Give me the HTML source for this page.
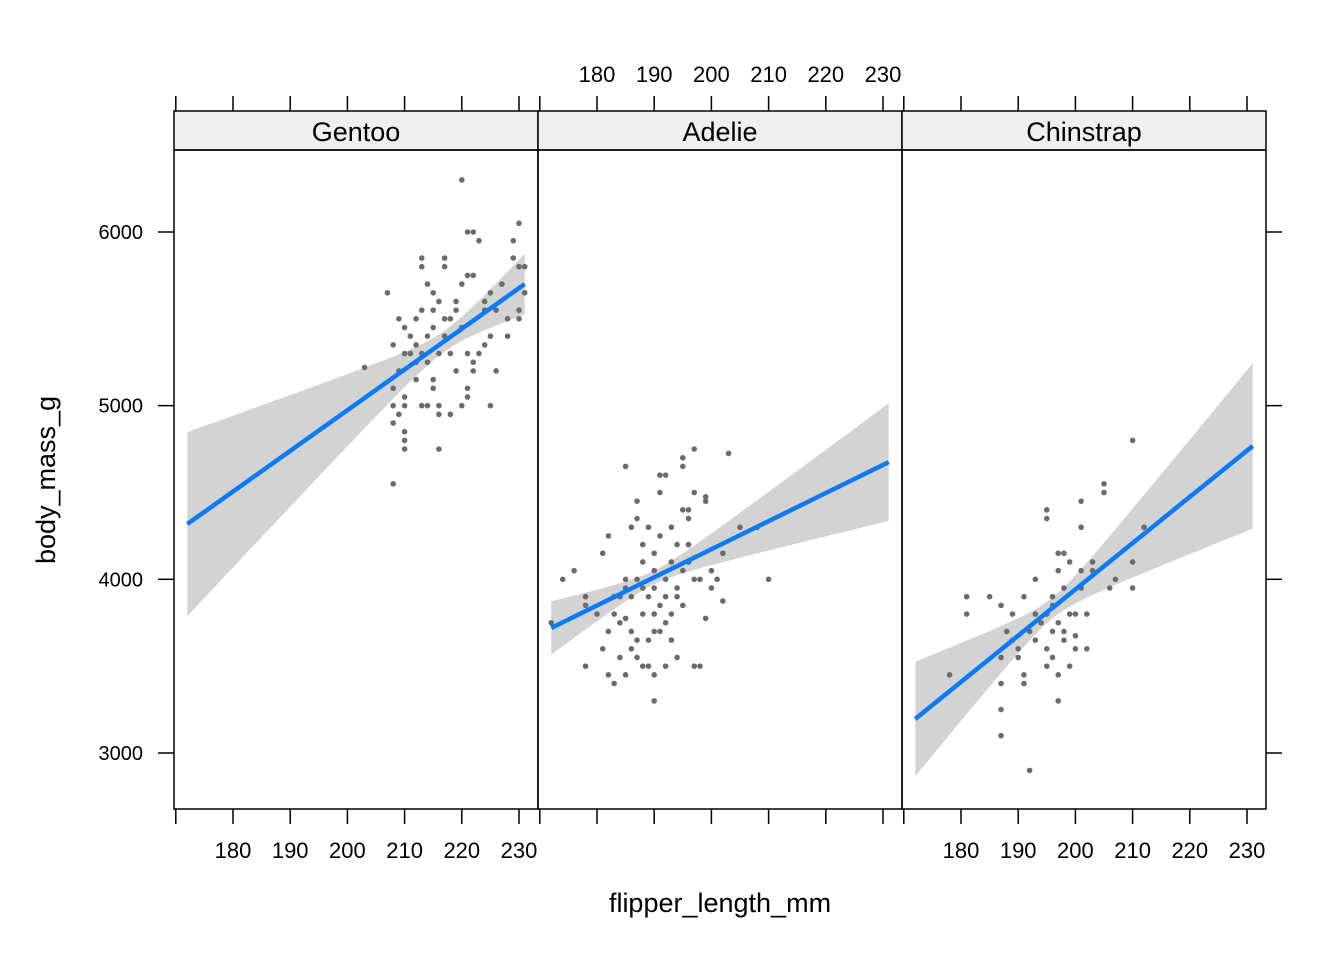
<!DOCTYPE html>
<html><head><meta charset="utf-8"><style>
body{margin:0;background:#fff}
svg text{font-family:"Liberation Sans",Arial,sans-serif;fill:#000}
</style></head><body>
<svg id="c" width="1344" height="960" xmlns="http://www.w3.org/2000/svg"></svg>
<script>
const panels=["Gentoo","Adelie","Chinstrap"];
const xTicks=[170,180,190,200,210,220,230];
const xTickLabels=["","180","190","200","210","220","230"];
const yTicks=[3000,4000,5000,6000];
const gentooPts=[[220,6300],[207,5650],[203,5220],[208,4550],[216,4750],[210,4750],[230,6050],[221,6000],[222,6000],[223,5950],[229,5950],[213,5800],[217,5800],[221,5750],[222,5750],[230,5800],[231,5800],[229,5850],[213,5850],[217,5850],[214,5700],[215,5650],[216,5600],[215,5550],[213,5550],[212,5500],[209,5500],[210,5450],[211,5400],[212,5350],[210,5300],[208,5350],[209,5200],[208,5100],[210,5050],[208,5000],[210,5000],[209,4950],[208,4900],[210,4850],[210,4800],[212,5150],[213,5000],[214,5000],[215,5100],[215,5150],[216,5300],[217,5400],[218,5500],[219,5550],[220,5450],[221,5300],[222,5250],[223,5300],[224,5350],[225,5400],[226,5550],[224,5600],[225,5650],[228,5500],[228,5400],[230,5500],[230,5550],[231,5650],[220,5000],[221,5050],[221,5100],[222,5200],[225,5000],[219,5200],[218,5300],[217,5500],[216,4950],[216,5000],[214,5250],[213,5300],[212,5250],[211,5300],[214,5400],[215,5450],[219,5600],[220,5700],[226,5200],[227,5700],[224,5550],[218,4950]];
const adeliePts=[[172,3750],[174,4000],[176,4050],[178,3500],[178,3900],[178,3850],[180,3800],[181,3600],[181,4150],[182,4250],[182,3700],[182,3450],[183,3400],[183,3800],[184,3750],[184,3900],[185,3450],[185,4650],[185,3950],[185,4000],[186,3600],[186,4300],[186,3700],[187,3650],[187,4450],[187,4350],[187,4000],[187,3550],[188,3800],[188,4200],[188,3500],[188,4100],[189,3500],[189,3900],[189,3650],[189,4300],[190,3300],[190,3800],[190,3950],[190,4050],[190,3700],[190,4150],[191,4600],[191,4500],[191,3850],[191,3700],[191,4250],[192,4600],[192,3900],[192,3750],[192,3500],[192,4000],[193,4300],[193,3800],[193,4100],[193,3650],[194,3550],[194,4200],[194,3950],[195,4650],[195,4700],[195,3850],[195,4400],[195,4050],[196,4200],[196,4400],[196,4350],[197,4500],[197,4750],[197,3500],[198,3500],[198,4000],[199,4450],[199,3775],[199,4475],[200,3950],[200,4050],[201,4000],[202,3875],[202,4150],[203,4725],[205,4300],[208,4300],[210,4000],[186,3900],[184,3550],[188,3950],[190,3450],[194,3900],[196,4100],[183,3900],[185,3775],[197,4000]];
const chinstrapPts=[[178,3450],[181,3900],[181,3800],[185,3900],[187,3850],[187,3550],[187,3400],[187,3250],[187,3100],[188,3700],[189,3800],[189,3650],[190,3600],[190,3550],[191,3900],[191,3450],[191,3400],[192,2900],[192,3700],[193,3650],[193,3800],[193,4000],[194,3750],[195,4400],[195,4350],[195,3800],[195,3500],[195,3600],[196,3850],[196,3900],[196,3700],[196,3550],[197,4050],[197,4150],[197,3300],[197,3450],[197,3750],[198,3700],[198,4150],[198,3950],[199,4100],[199,3800],[199,3500],[200,3600],[200,3800],[201,4300],[201,4450],[201,4050],[201,3950],[202,3600],[202,3800],[203,4100],[203,4050],[205,4500],[205,4550],[206,3950],[207,4000],[210,4800],[210,3950],[210,4100],[212,4300],[200,3675],[198,3650]];
const points=[gentooPts,adeliePts,chinstrapPts];
// fit: [x0, y0, x1, y1]
const fitLines=[[172,4318,231,5700],[172,3720,231,4675],[172,3196,231,4768]];
// band: [xbar, h0, k] halfwidth = sqrt(h0^2 + k^2 (x-xbar)^2)
const bands=[[217,60,11.7],[190,40,8.2],[196,60,13.5]];

const svg=document.getElementById('c');const NS="http://www.w3.org/2000/svg";
function mk(t,a,p){const e=document.createElementNS(NS,t);for(const k in a)e.setAttribute(k,a[k]);(p||svg).appendChild(e);return e;}
const PW=364,L0=174,TOP=150,BOT=809,STRIP=111;
function xs(i,v){return L0+i*PW+59+(v-180)*5.72;}
function ys(v){return 753-(v-3000)*0.17367;}
panels.forEach((name,i)=>{
  const g=mk('g',{});
  
  
  const x0=L0+i*PW;
  const cp=mk('clipPath',{id:'cp'+i},g);mk('rect',{x:x0,y:TOP,width:PW,height:BOT-TOP},cp);
  const inner=mk('g',{'clip-path':'url(#cp'+i+')'},g);
  const f=fitLines[i],b=bands[i];
  const fy=v=>f[1]+(f[3]-f[1])*(v-f[0])/(f[2]-f[0]);
  const hw=v=>Math.sqrt(b[1]*b[1]+b[2]*b[2]*(v-b[0])*(v-b[0]));
  let up=[],lo=[];
  for(let s=0;s<=40;s++){const v=f[0]+(f[2]-f[0])*s/40;up.push(xs(i,v)+','+ys(fy(v)+hw(v)));lo.unshift(xs(i,v)+','+ys(fy(v)-hw(v)));}
  const band=mk('polygon',{points:up.concat(lo).join(' '),fill:'#d3d3d3'},inner);
  
  
  points[i].forEach(p=>{const c=mk('circle',{cx:xs(i,p[0]),cy:ys(p[1]),r:2.8,fill:'#6b6b6b'},inner);
    
    });
  const ln=mk('line',{x1:xs(i,f[0]),y1:ys(f[1]),x2:xs(i,f[2]),y2:ys(f[3]),stroke:'#0a7af5','stroke-width':4.5},inner);
  
  
  mk('rect',{x:x0,y:STRIP,width:PW,height:TOP-STRIP,fill:'#efefef',stroke:'#000','stroke-width':1.5},g);
  const st=mk('text',{x:x0+PW/2,y:141,'text-anchor':'middle','font-size':27},g);st.textContent=name;
  
  
  mk('rect',{x:x0,y:TOP,width:PW,height:BOT-TOP,fill:'none',stroke:'#000','stroke-width':1.5},g);
  xTicks.forEach((t,j)=>{const x=xs(i,t);
    mk('line',{x1:x,y1:STRIP,x2:x,y2:STRIP-15,stroke:'#000','stroke-width':1.5},g);
    mk('line',{x1:x,y1:BOT,x2:x,y2:BOT+15,stroke:'#000','stroke-width':1.5},g);
    if(i!==1){const tl=mk('text',{x:x,y:858,'text-anchor':'middle','font-size':22},g);tl.textContent=xTickLabels[j];
      
      }
    else{const tl=mk('text',{x:x,y:82,'text-anchor':'middle','font-size':22},g);tl.textContent=xTickLabels[j];
      
      }
  });
});
yTicks.forEach(t=>{const y=ys(t);
  mk('line',{x1:L0,y1:y,x2:L0-16,y2:y,stroke:'#000','stroke-width':1.5});
  mk('line',{x1:L0+3*PW,y1:y,x2:L0+3*PW+16,y2:y,stroke:'#000','stroke-width':1.5});
  const tl=mk('text',{x:143,y:y+7,'text-anchor':'end','font-size':20});tl.textContent=t;
  
  
});
const xt=mk('text',{x:720,y:912,'text-anchor':'middle','font-size':27});xt.textContent='flipper_length_mm';


const yt=mk('text',{x:55,y:480,'text-anchor':'middle','font-size':27,transform:'rotate(-90 55 480)'});yt.textContent='body_mass_g';


</script>
</body></html>
